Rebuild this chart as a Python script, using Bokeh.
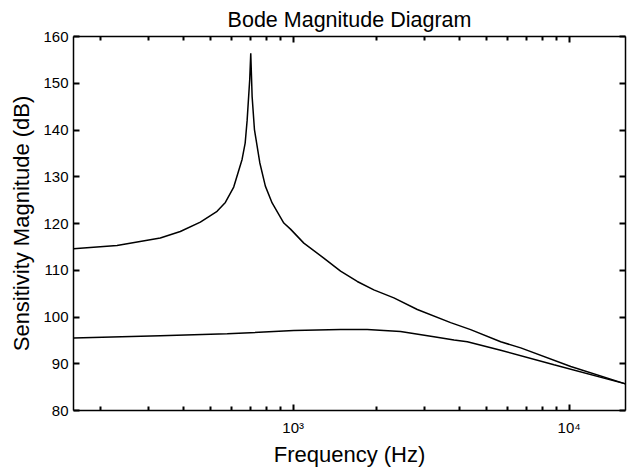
from bokeh.plotting import figure
from bokeh.models import Range1d, LinearAxis, LogAxis, FixedTicker, CustomJSTickFormatter
from bokeh.embed import file_html
from bokeh.resources import INLINE

# ---- data ----
freq_upper = [160, 230, 330, 390, 461, 530, 568, 609, 653, 670, 681, 696, 702,
              710, 724, 757, 793, 839, 925, 978, 1093, 1291, 1485, 1707, 1960,
              2317, 2817, 3720, 4395, 5648, 6676, 10135, 16000]
mag_upper = [114.6, 115.3, 116.9, 118.3, 120.3, 122.6, 124.5, 127.8, 133.7, 137.2,
             142.0, 150.8, 156.4, 147.2, 140.1, 133.0, 128.0, 124.4, 120.1, 118.8,
             115.8, 112.6, 109.8, 107.6, 105.8, 104.1, 101.6, 98.8, 97.3, 94.7,
             93.4, 89.4, 85.7]

freq_lower = [160, 330, 577, 1005, 1485, 1855, 2449, 3236, 3828, 4276, 5648, 8810, 16000]
mag_lower = [95.5, 96.0, 96.4, 97.1, 97.3, 97.3, 96.9, 95.8, 95.1, 94.7, 92.9, 89.8, 85.7]

x_lim = [160, 16000]
y_lim = [80, 160]
x_major = [1000, 10000]
x_major_labels = {1000: "10\u00b3", 10000: "10\u2074"}
x_minor = [200, 300, 400, 500, 600, 700, 800, 900,
           2000, 3000, 4000, 5000, 6000, 7000, 8000, 9000]
y_ticks = [80, 90, 100, 110, 120, 130, 140, 150, 160]

FONT = "Liberation Sans"

p = figure(width=627, height=470, x_axis_type="log",
           x_range=Range1d(*x_lim), y_range=Range1d(*y_lim),
           output_backend="svg", toolbar_location=None,
           title="Bode Magnitude Diagram",
           min_border_left=73, min_border_right=2, min_border_top=10, min_border_bottom=60)

p.line(freq_upper, mag_upper, line_color="black", line_width=1.5)
p.line(freq_lower, mag_lower, line_color="black", line_width=1.5)

p.title.align = "center"
p.title.text_font = FONT
p.title.text_font_size = "21.5px"
p.title.text_font_style = "normal"
p.title.text_color = "black"
p.title.standoff = 10

p.xgrid.grid_line_color = None
p.ygrid.grid_line_color = None
p.outline_line_color = None

def style_axis(ax):
    ax.axis_line_color = "black"
    ax.axis_line_width = 1.5
    ax.major_tick_line_color = "black"
    ax.major_tick_line_width = 2
    ax.minor_tick_line_color = "black"
    ax.minor_tick_line_width = 2
    ax.major_tick_in = 6
    ax.major_tick_out = 0
    ax.minor_tick_in = 4
    ax.minor_tick_out = 0
    ax.major_label_text_font = FONT
    ax.major_label_text_font_size = "15px"
    ax.major_label_text_color = "black"
    ax.axis_label_text_font = FONT
    ax.axis_label_text_font_size = "22px"
    ax.axis_label_text_font_style = "normal"
    ax.axis_label_text_color = "black"

xa = p.xaxis[0]
style_axis(xa)
xa.ticker = FixedTicker(ticks=x_major, minor_ticks=x_minor)
xa.major_label_overrides = x_major_labels
xa.axis_label = "Frequency (Hz)"
xa.major_label_standoff = 8
xa.axis_label_standoff = 3

ya = p.yaxis[0]
style_axis(ya)
ya.ticker = FixedTicker(ticks=y_ticks)
ya.minor_tick_line_color = None
ya.axis_label = "Sensitivity Magnitude (dB)"
ya.major_label_standoff = 5
ya.axis_label_standoff = 6

top = LogAxis(ticker=FixedTicker(ticks=x_major, minor_ticks=x_minor),
              formatter=CustomJSTickFormatter(code="return ''"))
style_axis(top)
top.major_label_text_font_size = "0px"
top.major_label_standoff = 0
right = LinearAxis(ticker=FixedTicker(ticks=y_ticks),
                   formatter=CustomJSTickFormatter(code="return ''"))
style_axis(right)
right.minor_tick_line_color = None
right.major_label_text_font_size = "0px"
right.major_label_standoff = 0
p.add_layout(top, "above")
p.add_layout(right, "right")

open("out.html", "w").write(file_html(p, INLINE))
